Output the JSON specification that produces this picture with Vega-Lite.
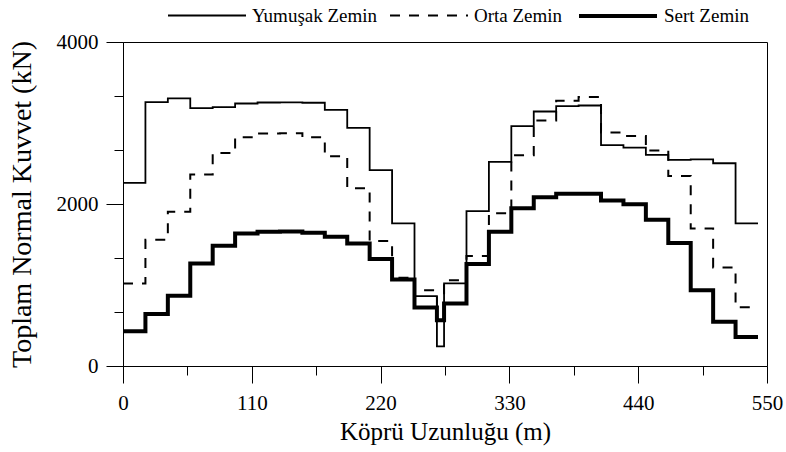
{
  "$schema": "https://vega.github.io/schema/vega-lite/v6.json",
  "width": 644,
  "height": 324,
  "autosize": {"type": "none"},
  "padding": {"left": 123, "top": 42, "right": 19, "bottom": 86},
  "config": {
    "font": "Liberation Serif",
    "view": {"stroke": "black", "strokeWidth": 1},
    "legend": {"labelFont": "Liberation Serif", "labelFontSize": 19, "labelColor": "black"},
    "axis": {
      "domainColor": "black",
      "tickColor": "black",
      "labelColor": "black",
      "titleColor": "black",
      "labelFont": "Liberation Serif",
      "titleFont": "Liberation Serif",
      "labelFontSize": 21,
      "titleFontSize": 25,
      "titleFontWeight": "normal",
      "grid": false
    }
  },
  "data": {
    "values": [
      {"x": 0, "v": 2260, "s": "Yumuşak Zemin"},
      {"x": 19.15, "v": 3258, "s": "Yumuşak Zemin"},
      {"x": 38.3, "v": 3303, "s": "Yumuşak Zemin"},
      {"x": 57.45, "v": 3183, "s": "Yumuşak Zemin"},
      {"x": 76.6, "v": 3196, "s": "Yumuşak Zemin"},
      {"x": 95.75, "v": 3241, "s": "Yumuşak Zemin"},
      {"x": 114.9, "v": 3253, "s": "Yumuşak Zemin"},
      {"x": 134.05, "v": 3255, "s": "Yumuşak Zemin"},
      {"x": 153.2, "v": 3250, "s": "Yumuşak Zemin"},
      {"x": 172.35, "v": 3163, "s": "Yumuşak Zemin"},
      {"x": 191.5, "v": 2940, "s": "Yumuşak Zemin"},
      {"x": 210.65, "v": 2417, "s": "Yumuşak Zemin"},
      {"x": 229.8, "v": 1761, "s": "Yumuşak Zemin"},
      {"x": 248.95, "v": 862, "s": "Yumuşak Zemin"},
      {"x": 268.1, "v": 243, "s": "Yumuşak Zemin"},
      {"x": 274.2, "v": 1019, "s": "Yumuşak Zemin"},
      {"x": 293.35, "v": 1913, "s": "Yumuşak Zemin"},
      {"x": 312.5, "v": 2519, "s": "Yumuşak Zemin"},
      {"x": 331.65, "v": 2961, "s": "Yumuşak Zemin"},
      {"x": 350.8, "v": 3142, "s": "Yumuşak Zemin"},
      {"x": 369.95, "v": 3208, "s": "Yumuşak Zemin"},
      {"x": 389.1, "v": 3216, "s": "Yumuşak Zemin"},
      {"x": 408.25, "v": 2726, "s": "Yumuşak Zemin"},
      {"x": 427.4, "v": 2697, "s": "Yumuşak Zemin"},
      {"x": 446.55, "v": 2606, "s": "Yumuşak Zemin"},
      {"x": 465.7, "v": 2545, "s": "Yumuşak Zemin"},
      {"x": 484.85, "v": 2552, "s": "Yumuşak Zemin"},
      {"x": 504, "v": 2503, "s": "Yumuşak Zemin"},
      {"x": 523.15, "v": 1761, "s": "Yumuşak Zemin"},
      {"x": 542.3, "v": 1761, "s": "Yumuşak Zemin"},

      {"x": 0, "v": 1019, "s": "Orta Zemin"},
      {"x": 19.15, "v": 1559, "s": "Orta Zemin"},
      {"x": 38.3, "v": 1905, "s": "Orta Zemin"},
      {"x": 57.45, "v": 2363, "s": "Orta Zemin"},
      {"x": 76.6, "v": 2631, "s": "Orta Zemin"},
      {"x": 95.75, "v": 2825, "s": "Orta Zemin"},
      {"x": 114.9, "v": 2870, "s": "Orta Zemin"},
      {"x": 134.05, "v": 2872, "s": "Orta Zemin"},
      {"x": 153.2, "v": 2825, "s": "Orta Zemin"},
      {"x": 172.35, "v": 2590, "s": "Orta Zemin"},
      {"x": 191.5, "v": 2194, "s": "Orta Zemin"},
      {"x": 210.65, "v": 1542, "s": "Orta Zemin"},
      {"x": 229.8, "v": 1089, "s": "Orta Zemin"},
      {"x": 248.95, "v": 936, "s": "Orta Zemin"},
      {"x": 268.1, "v": 565, "s": "Orta Zemin"},
      {"x": 274.2, "v": 1060, "s": "Orta Zemin"},
      {"x": 293.35, "v": 1357, "s": "Orta Zemin"},
      {"x": 312.5, "v": 1885, "s": "Orta Zemin"},
      {"x": 331.65, "v": 2602, "s": "Orta Zemin"},
      {"x": 350.8, "v": 3030, "s": "Orta Zemin"},
      {"x": 369.95, "v": 3274, "s": "Orta Zemin"},
      {"x": 389.1, "v": 3320, "s": "Orta Zemin"},
      {"x": 408.25, "v": 2883, "s": "Orta Zemin"},
      {"x": 427.4, "v": 2841, "s": "Orta Zemin"},
      {"x": 446.55, "v": 2659, "s": "Orta Zemin"},
      {"x": 465.7, "v": 2346, "s": "Orta Zemin"},
      {"x": 484.85, "v": 1699, "s": "Orta Zemin"},
      {"x": 504, "v": 1217, "s": "Orta Zemin"},
      {"x": 523.15, "v": 726, "s": "Orta Zemin"},
      {"x": 542.3, "v": 726, "s": "Orta Zemin"},

      {"x": 0, "v": 429, "s": "Sert Zemin"},
      {"x": 19.15, "v": 643, "s": "Sert Zemin"},
      {"x": 38.3, "v": 866, "s": "Sert Zemin"},
      {"x": 57.45, "v": 1266, "s": "Sert Zemin"},
      {"x": 76.6, "v": 1484, "s": "Sert Zemin"},
      {"x": 95.75, "v": 1637, "s": "Sert Zemin"},
      {"x": 114.9, "v": 1657, "s": "Sert Zemin"},
      {"x": 134.05, "v": 1660, "s": "Sert Zemin"},
      {"x": 153.2, "v": 1645, "s": "Sert Zemin"},
      {"x": 172.35, "v": 1596, "s": "Sert Zemin"},
      {"x": 191.5, "v": 1513, "s": "Sert Zemin"},
      {"x": 210.65, "v": 1320, "s": "Sert Zemin"},
      {"x": 229.8, "v": 1068, "s": "Sert Zemin"},
      {"x": 248.95, "v": 722, "s": "Sert Zemin"},
      {"x": 268.1, "v": 565, "s": "Sert Zemin"},
      {"x": 274.2, "v": 771, "s": "Sert Zemin"},
      {"x": 293.35, "v": 1258, "s": "Sert Zemin"},
      {"x": 312.5, "v": 1657, "s": "Sert Zemin"},
      {"x": 331.65, "v": 1946, "s": "Sert Zemin"},
      {"x": 350.8, "v": 2083, "s": "Sert Zemin"},
      {"x": 369.95, "v": 2128, "s": "Sert Zemin"},
      {"x": 389.1, "v": 2128, "s": "Sert Zemin"},
      {"x": 408.25, "v": 2042, "s": "Sert Zemin"},
      {"x": 427.4, "v": 1996, "s": "Sert Zemin"},
      {"x": 446.55, "v": 1806, "s": "Sert Zemin"},
      {"x": 465.7, "v": 1517, "s": "Sert Zemin"},
      {"x": 484.85, "v": 936, "s": "Sert Zemin"},
      {"x": 504, "v": 545, "s": "Sert Zemin"},
      {"x": 523.15, "v": 359, "s": "Sert Zemin"},
      {"x": 542.3, "v": 359, "s": "Sert Zemin"}
    ]
  },
  "mark": {"type": "line", "interpolate": "step-after", "color": "black", "strokeCap": "butt"},
  "encoding": {
    "x": {
      "field": "x",
      "type": "quantitative",
      "scale": {"domain": [0, 550], "nice": false, "zero": false},
      "axis": {
        "title": "Köprü Uzunluğu (m)",
        "values": [0, 55, 110, 165, 220, 275, 330, 385, 440, 495, 550],
        "format": "d",
        "labelExpr": "datum.value % 110 === 0 ? datum.label : ''",
        "tickSize": {"condition": {"test": "datum.value % 110 === 0", "value": 17}, "value": 9},
        "labelPadding": 9,
        "titlePadding": 6,
        "labelFlush": false,
        "labelOverlap": false
      }
    },
    "y": {
      "field": "v",
      "type": "quantitative",
      "scale": {"domain": [0, 4000], "nice": false},
      "axis": {
        "title": "Toplam Normal Kuvvet (kN)",
        "titleFontSize": 28,
        "values": [0, 666.667, 1333.333, 2000, 2666.667, 3333.333, 4000],
        "format": "d",
        "labelExpr": "datum.value % 2000 === 0 ? datum.label : ''",
        "tickSize": {"condition": {"test": "datum.value % 2000 === 0", "value": 17}, "value": 9},
        "labelPadding": 8,
        "titlePadding": 20,
        "labelFlush": false,
        "labelOverlap": false
      }
    },
    "strokeDash": {
      "field": "s",
      "type": "nominal",
      "sort": ["Yumuşak Zemin", "Orta Zemin", "Sert Zemin"],
      "scale": {"domain": ["Yumuşak Zemin", "Orta Zemin", "Sert Zemin"], "range": [[1, 0], [10, 9], [1, 0]]},
      "legend": {
        "title": null,
        "orient": "none",
        "legendX": 44,
        "legendY": -67,
        "direction": "horizontal",
        "symbolType": "stroke",
        "symbolSize": 6084,
        "symbolStrokeColor": "black",
        "labelFont": "Liberation Serif",
        "labelFontSize": 19,
        "labelColor": "black",
        "labelOffset": 5,
        "columnPadding": 8
      }
    },
    "strokeWidth": {
      "field": "s",
      "type": "nominal",
      "sort": ["Yumuşak Zemin", "Orta Zemin", "Sert Zemin"],
      "scale": {"type": "ordinal", "domain": ["Yumuşak Zemin", "Orta Zemin", "Sert Zemin"], "range": [1.8, 2, 4]},
      "legend": {
        "title": null,
        "orient": "none",
        "legendX": 44,
        "legendY": -67,
        "direction": "horizontal",
        "symbolType": "stroke",
        "symbolSize": 6084,
        "symbolStrokeColor": "black",
        "labelFont": "Liberation Serif",
        "labelFontSize": 19,
        "labelColor": "black",
        "labelOffset": 5,
        "columnPadding": 8
      }
    }
  }
}
